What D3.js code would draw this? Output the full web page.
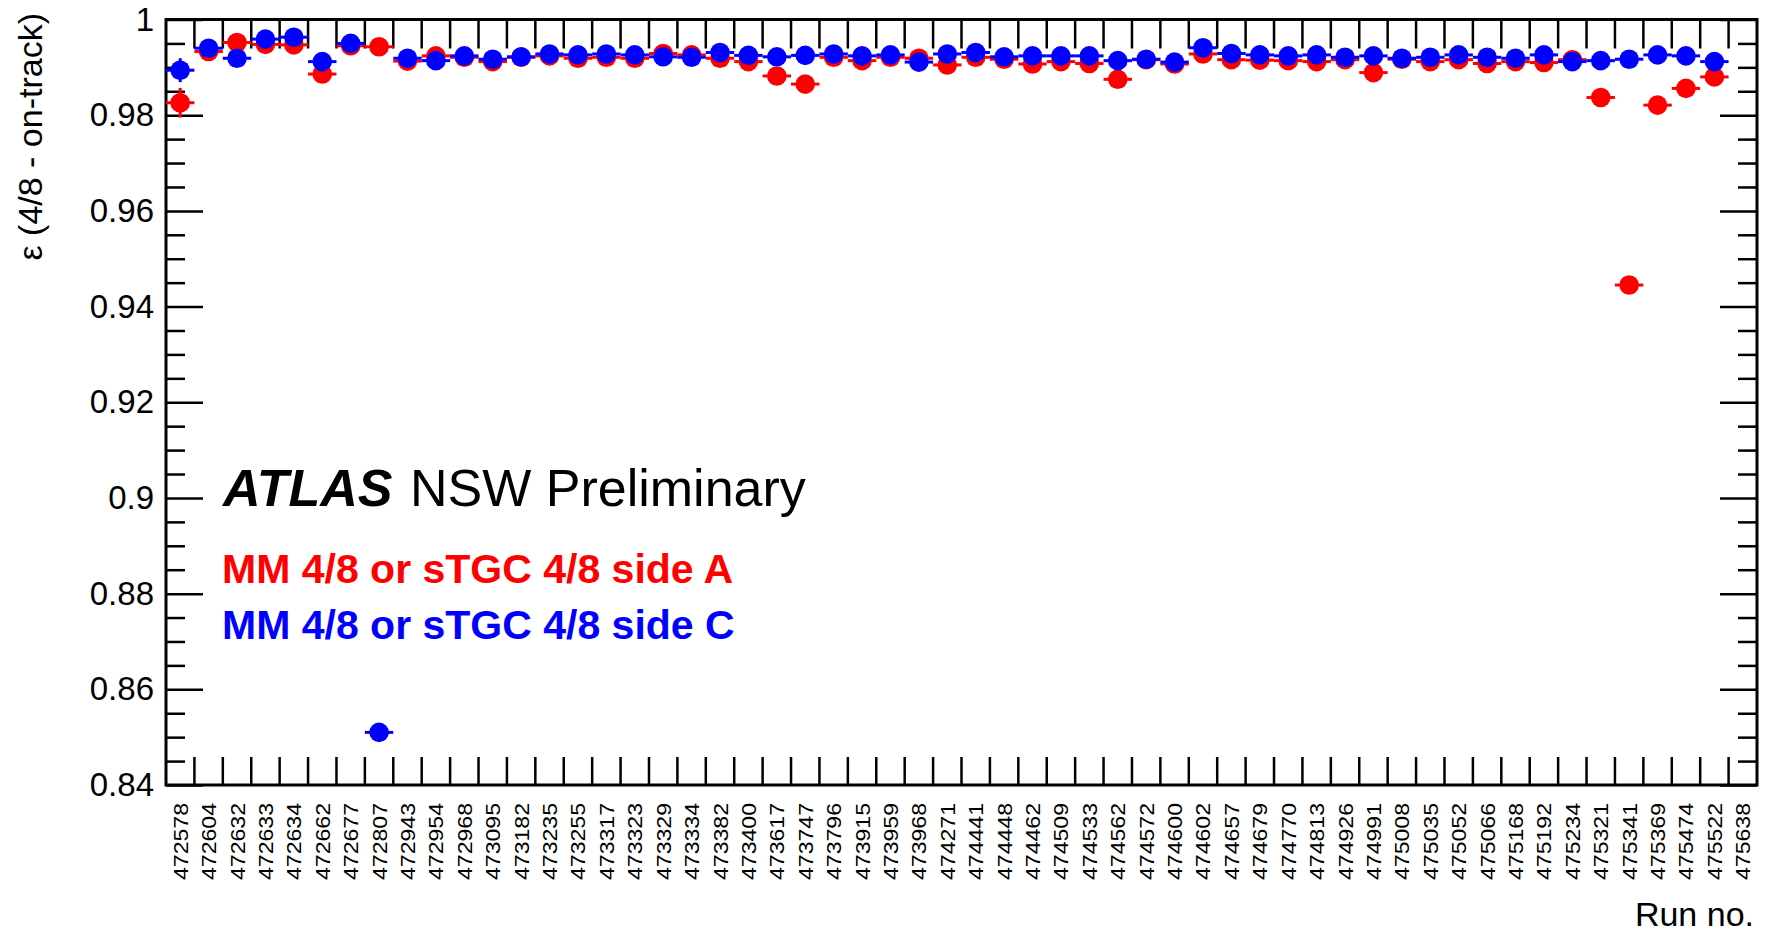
<!DOCTYPE html>
<html>
<head>
<meta charset="utf-8">
<script src="https://cdn.jsdelivr.net/npm/d3@7"></script>
<style>
  body { margin: 0; background: #fff; }
  text { font-family: "Liberation Sans", Arial, Helvetica, sans-serif; }
</style>
</head>
<body>
<div id="container"></div>
<script>
var width = 1767,
    height = 936;

// run numbers (one bin each)
var runs = ["472578","472604","472632","472633","472634","472662","472677","472807",
  "472943","472954","472968","473095","473182","473235","473255","473317","473323",
  "473329","473334","473382","473400","473617","473747","473796","473915","473959",
  "473968","474271","474441","474448","474462","474509","474533","474562","474572",
  "474600","474602","474657","474679","474770","474813","474926","474991","475008",
  "475035","475052","475066","475168","475192","475234","475321","475341","475369",
  "475474","475522","475638"];

// side A efficiency (red)
var effA = [0.9826,0.9933,0.9952,0.9948,0.9947,0.9886,0.9945,0.9943,0.9913,0.9924,
  0.9921,0.9912,0.9921,0.9924,0.9919,0.9921,0.9919,0.9929,0.9926,0.9919,0.9912,
  0.9882,0.9865,0.9921,0.9914,0.9921,0.9919,0.9905,0.9921,0.9917,0.9907,0.9912,
  0.9908,0.9875,0.9916,0.9907,0.9928,0.9916,0.9915,0.9914,0.9912,0.9916,0.9889,
  0.9917,0.9912,0.9916,0.9908,0.9912,0.9910,0.9916,0.9837,0.9445,0.9821,0.9856,
  0.9880,null];

// side C efficiency (blue)
var effC = [0.9894,0.9940,0.9919,0.9959,0.9963,0.9912,0.9950,0.8510,0.9919,0.9914,
  0.9924,0.9917,0.9922,0.9928,0.9926,0.9928,0.9926,0.9922,0.9921,0.9931,0.9925,
  0.9922,0.9925,0.9928,0.9924,0.9926,0.9911,0.9928,0.9931,0.9922,0.9924,0.9924,
  0.9924,0.9914,0.9917,0.9911,0.9941,0.9929,0.9926,0.9924,0.9926,0.9921,0.9924,
  0.9919,0.9921,0.9926,0.9921,0.9919,0.9926,0.9912,0.9914,0.9917,0.9926,0.9924,
  0.9912,null];

// statistical errors
var errA = runs.map(function(d, i) { return i === 0 ? 0.0031 : 0.0004; });
var errC = runs.map(function(d, i) { return i === 0 ? 0.0025 : 0.0004; });

var yMajor = [0.84, 0.86, 0.88, 0.9, 0.92, 0.94, 0.96, 0.98, 1];

var padL = 166, padR = 1757, padT = 19.5, padB = 785;

var svg = d3.select("#container").append("svg")
  .attr("width", width)
  .attr("height", height);

svg.append("rect").attr("width", width).attr("height", height).attr("fill", "#fff");

var x = d3.scaleBand().domain(runs).range([padL, padR]).padding(0);
var y = d3.scaleLinear().domain([0.84, 1]).range([padB, padT]);

//y axis, left side: major + minor ticks pointing inward
var yAxisL = svg.append("g")
  .attr("transform", "translate(" + padL + ",0)")
  .call(d3.axisLeft(y).tickValues(yMajor).tickSize(-37).tickPadding(12)
    .tickFormat(function(d) { return String(+d.toFixed(2)); }));
yAxisL.select(".domain").remove();
yAxisL.selectAll("line").attr("stroke", "#000").attr("stroke-width", 2.5);
yAxisL.selectAll("text").attr("font-size", 33).attr("fill", "#000")
  .attr("font-family", "Liberation Sans, Arial, sans-serif");

var minor = y.ticks(32).filter(function(d) {
  return yMajor.every(function(m) { return Math.abs(m - d) > 1e-6; });
});
svg.append("g")
  .attr("transform", "translate(" + padL + ",0)")
  .call(d3.axisLeft(y).tickValues(minor).tickSize(-19).tickFormat(""))
  .call(function(g) { g.select(".domain").remove(); })
  .selectAll("line").attr("stroke", "#000").attr("stroke-width", 2.5);

//y axis, right side
svg.append("g")
  .attr("transform", "translate(" + padR + ",0)")
  .call(d3.axisRight(y).tickValues(yMajor).tickSize(-37).tickFormat(""))
  .call(function(g) { g.select(".domain").remove(); })
  .selectAll("line").attr("stroke", "#000").attr("stroke-width", 2.5);
svg.append("g")
  .attr("transform", "translate(" + padR + ",0)")
  .call(d3.axisRight(y).tickValues(minor).tickSize(-19).tickFormat(""))
  .call(function(g) { g.select(".domain").remove(); })
  .selectAll("line").attr("stroke", "#000").attr("stroke-width", 2.5);

//x ticks at the bin edges, top and bottom
var edges = runs.slice(1);
svg.append("g").selectAll("line")
  .data(edges).enter().append("line")
  .attr("x1", function(d) { return x(d); })
  .attr("x2", function(d) { return x(d); })
  .attr("y1", padT).attr("y2", padT + 29)
  .attr("stroke", "#000").attr("stroke-width", 2.5);
svg.append("g").selectAll("line")
  .data(edges).enter().append("line")
  .attr("x1", function(d) { return x(d); })
  .attr("x2", function(d) { return x(d); })
  .attr("y1", padB).attr("y2", padB - 28)
  .attr("stroke", "#000").attr("stroke-width", 2.5);

//run labels, vertical
svg.append("g").selectAll("text")
  .data(runs).enter().append("text")
  .attr("transform", function(d) {
    return "translate(" + (x(d) + x.bandwidth() / 2 + 7.5) + "," + (padB + 18) + ") rotate(-90)";
  })
  .attr("text-anchor", "end")
  .attr("font-size", 21)
  .attr("textLength", 77)
  .attr("lengthAdjust", "spacingAndGlyphs")
  .attr("fill", "#000")
  .text(function(d) { return d; });

//frame
svg.append("rect")
  .attr("x", padL).attr("y", padT)
  .attr("width", padR - padL).attr("height", padB - padT)
  .attr("fill", "none").attr("stroke", "#000").attr("stroke-width", 3);

//axis titles
svg.append("text")
  .attr("transform", "translate(42,13) rotate(-90)")
  .attr("text-anchor", "end")
  .attr("font-size", 34)
  .text("\u03b5 (4/8 - on-track)");

svg.append("text")
  .attr("x", 1754).attr("y", 926)
  .attr("text-anchor", "end")
  .attr("font-size", 34)
  .text("Run no.");

//data points: horizontal bar over bin width, vertical error, filled marker
function drawSeries(vals, errs, color) {
  var pts = runs.map(function(r, i) { return { run: r, v: vals[i], e: errs[i] }; })
    .filter(function(d) { return d.v != null; });
  var g = svg.append("g");
  g.selectAll("line.h").data(pts).enter().append("line")
    .attr("class", "h")
    .attr("x1", function(d) { return x(d.run); })
    .attr("x2", function(d) { return x(d.run) + x.bandwidth(); })
    .attr("y1", function(d) { return y(d.v); })
    .attr("y2", function(d) { return y(d.v); })
    .attr("stroke", color).attr("stroke-width", 3);
  g.selectAll("line.v").data(pts).enter().append("line")
    .attr("class", "v")
    .attr("x1", function(d) { return x(d.run) + x.bandwidth() / 2; })
    .attr("x2", function(d) { return x(d.run) + x.bandwidth() / 2; })
    .attr("y1", function(d) { return y(d.v - d.e); })
    .attr("y2", function(d) { return y(d.v + d.e); })
    .attr("stroke", color).attr("stroke-width", 3);
  g.selectAll("circle").data(pts).enter().append("circle")
    .attr("cx", function(d) { return x(d.run) + x.bandwidth() / 2; })
    .attr("cy", function(d) { return y(d.v); })
    .attr("r", 9.8)
    .attr("fill", color);
}
drawSeries(effA, errA, "#ff0000");
drawSeries(effC, errC, "#0000ff");

//labels
var atlas = svg.append("text").attr("x", 223).attr("y", 506).attr("font-size", 52);
atlas.append("tspan").attr("font-weight", "bold").attr("font-style", "italic").text("ATLAS");
atlas.append("tspan").attr("x", 410).text("NSW Preliminary");

svg.append("text")
  .attr("x", 222).attr("y", 583)
  .attr("font-size", 41).attr("font-weight", "bold")
  .attr("fill", "#ff0000")
  .text("MM 4/8 or sTGC 4/8 side A");
svg.append("text")
  .attr("x", 222).attr("y", 639)
  .attr("font-size", 41).attr("font-weight", "bold")
  .attr("fill", "#0000ff")
  .text("MM 4/8 or sTGC 4/8 side C");
</script>
</body>
</html>
